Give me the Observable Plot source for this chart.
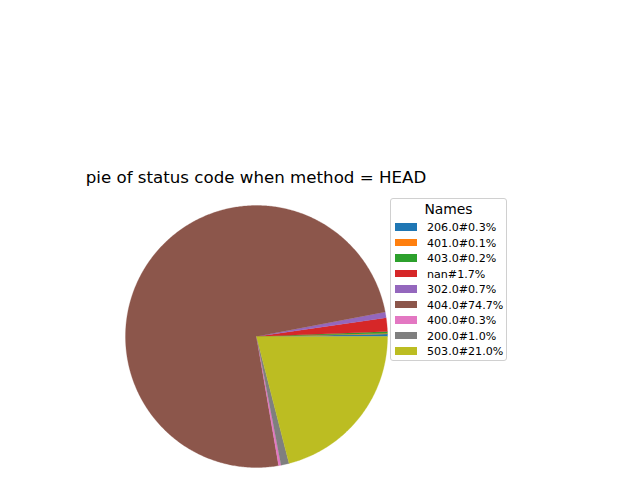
<!DOCTYPE html>
<html><head><meta charset="utf-8">
<script src="https://cdn.jsdelivr.net/npm/d3@7"></script>
<script src="https://cdn.jsdelivr.net/npm/@observablehq/plot@0.6"></script>
<style>
body{margin:0;background:#fff;font-family:"DejaVu Sans",sans-serif;}
#wrap{position:relative;width:640px;height:480px;overflow:hidden}
#chart{position:absolute;left:0;top:0}
#title{position:absolute;left:0;width:512px;text-align:center;top:169px;font-size:16.67px;line-height:18px;color:#000}
#legend{position:absolute;left:390px;top:198px;width:115px;height:161px;border:1px solid #d0d0d0;border-radius:3px;background:rgba(255,255,255,0.8)}
#legend .lt{position:absolute;left:0;width:100%;text-align:center;top:2px;font-size:13.9px;line-height:16px}
#legend .row{position:absolute;left:4px;height:13px;font-size:11.1px;line-height:13px;white-space:nowrap}
#legend .sw{position:absolute;left:0;top:2px;width:22px;height:7.5px}
#legend .tx{position:absolute;left:32px;top:0}
</style></head>
<body><div id="wrap"><div id="chart"></div><div id="title"></div><div id="legend"></div></div>
<script>
const names = ["206.0","401.0","403.0","nan","302.0","404.0","400.0","200.0","503.0"];
const percents = [0.3,0.1,0.2,1.7,0.7,74.7,0.3,1.0,21.0];
const colors = ["#1f77b4","#ff7f0e","#2ca02c","#d62728","#9467bd","#8c564b","#e377c2","#7f7f7f","#bcbd22"];
const titleText = "pie of status code when method = HEAD";
const legendTitle = "Names";

// slice outlines built from the pie layout (counterclockwise from 3 o'clock)
const total = d3.sum(percents);
const pts = [];
let cum = 0;
names.forEach((n, i) => {
  const a0 = cum / total * 2 * Math.PI;
  cum += percents[i];
  const a1 = cum / total * 2 * Math.PI;
  pts.push({name: n, x: 0, y: 0});
  const steps = Math.max(2, Math.ceil((a1 - a0) / 0.01));
  for (let k = 0; k <= steps; k++) {
    const a = a0 + (a1 - a0) * k / steps;
    pts.push({name: n, x: Math.cos(a), y: Math.sin(a)});
  }
  pts.push({name: n, x: 0, y: 0});
});

const plot = Plot.plot({
  width: 640, height: 480,
  margin: 0,
  x: {domain: [-1, 1], range: [125, 387], axis: null},
  y: {domain: [-1, 1], range: [467, 205], axis: null},
  color: {domain: names, range: colors},
  marks: [
    Plot.line(pts, {x: "x", y: "y", z: "name", fill: "name", stroke: "name", strokeWidth: 0.3, curve: "linear"})
  ]
});
document.getElementById("chart").appendChild(plot);
document.getElementById("title").textContent = titleText;

const lg = document.getElementById("legend");
const t = document.createElement("div"); t.className = "lt"; t.textContent = legendTitle; lg.appendChild(t);
names.forEach((n, i) => {
  const r = document.createElement("div"); r.className = "row";
  r.style.top = (22 + i * 15.5) + "px";
  const s = document.createElement("div"); s.className = "sw"; s.style.background = colors[i];
  const tx = document.createElement("div"); tx.className = "tx"; tx.textContent = n + "#" + percents[i].toFixed(1) + "%";
  r.appendChild(s); r.appendChild(tx); lg.appendChild(r);
});
</script></body></html>
